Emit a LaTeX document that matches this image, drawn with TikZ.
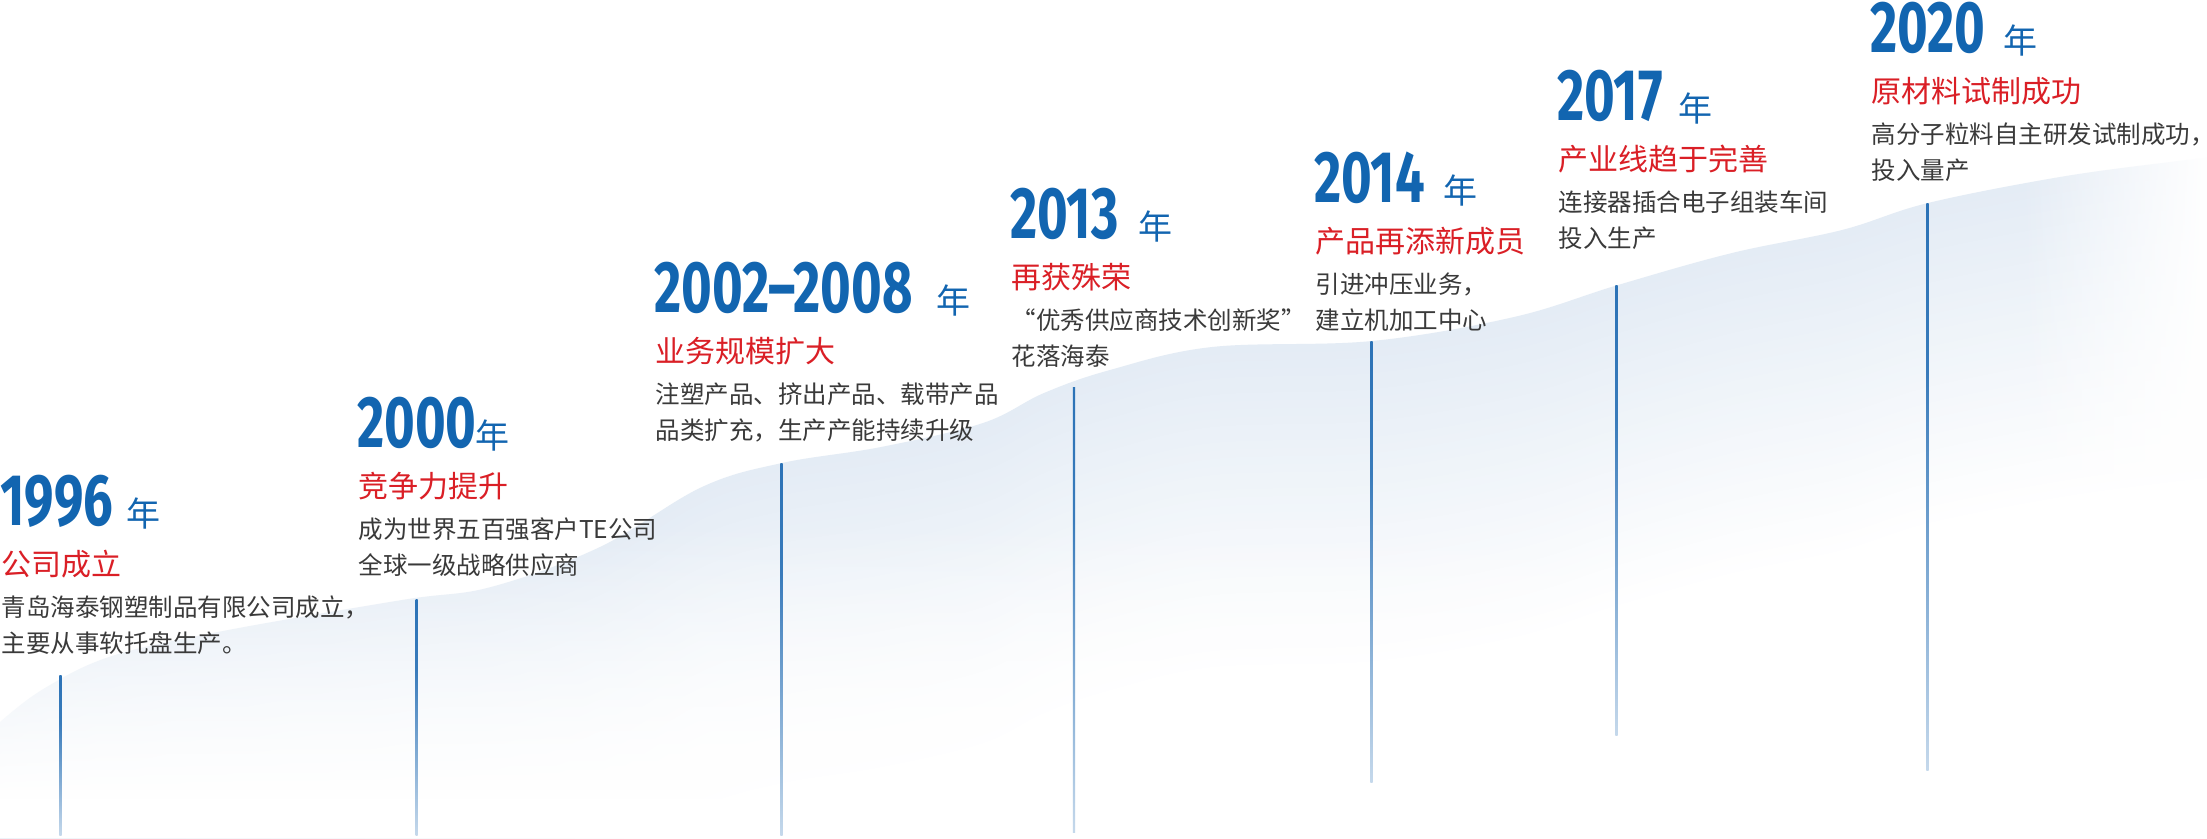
\documentclass[tikz,border=0pt]{standalone}
\usepackage{fontspec}
\usetikzlibrary{fadings}
\newfontfamily\cjk{Noto Sans CJK SC}
\newfontfamily\yearfont{Fira Sans}[FakeStretch=0.72]
\definecolor{yearblue}{RGB}{18,101,176}
\definecolor{titlered}{RGB}{218,31,38}
\definecolor{bodygray}{RGB}{58,58,58}
\definecolor{wave}{RGB}{228,236,245}
\definecolor{lineblue}{RGB}{22,100,175}
\pgfdeclareverticalshading{linefade}{100bp}{color(0bp)=(white); color(25bp)=(lineblue!25!white); color(60bp)=(lineblue!85!white); color(100bp)=(lineblue)}
\tikzfading[name=fadetoright, left color=transparent!100, right color=transparent!0]
\tikzfading[name=fadetobottom, top color=transparent!100, bottom color=transparent!0]
\tikzset{
  yearnum/.style={font=\yearfont\bfseries\fontsize{73}{73}\selectfont, text=yearblue, anchor=base west, inner sep=0pt},
  nian/.style={font=\cjk\fontsize{34}{34}\selectfont, text=yearblue, anchor=base west, inner sep=0pt},
  ttl/.style={font=\cjk\fontsize{30}{30}\selectfont, text=titlered, anchor=base west, inner sep=0pt},
  bodytext/.style={font=\cjk\fontsize{24.5}{36}\selectfont, text=bodygray, anchor=base west, inner sep=0pt},
  vline/.style={shading=linefade}
}
% #1 id, #2 ink x, #3 top y, #4 year, #5 nian x, #6 title, #7 line1, #8 line2
\newcommand\milestone[8]{%
  \node[yearnum] (y#1) at (#2-3, #3+50) {#4};
  \node[nian] (n#1) at (#5-2, #3+51) {年};
  \node[ttl] (t#1) at (#2-1.5, #3+100) {#6};
  \node[bodytext] (a#1) at (#2-1.5, #3+141) {#7};
  \node[bodytext] (b#1) at (#2-1.5, #3+177) {#8};
}
\newcommand\stemline[4]{%
  \coordinate (s#1t) at (#2-1.1, #3);
  \coordinate (s#1b) at (#2+1.1, #4);
  \shade[vline] (s#1t) rectangle (s#1b);
}
\begin{document}
\begin{tikzpicture}[x=1pt, y=-1pt]
\useasboundingbox (0,0) rectangle (2207,838);
\clip (0,0) rectangle (2207,838);
\fill[white] (0,0) rectangle (2207,838);
% background wave
\foreach \i in {0,...,40}{
  \pgfmathsetmacro\pct{100-2.5*\i}
  \fill[wave!\pct!white, shift={(0,\i*8)}]
    plot[smooth, tension=0.6] coordinates {(-10,735) (0,722) (45,688) (112,656) (223,631) (402,600) (491,587) (600,547) (702,487) (782,463) (881,447) (983,423) (1044,393) (1110,370) (1212,347) (1372,341) (1514,317) (1618,285) (1732,253) (1842,230) (1928,203) (2060,177) (2170,162) (2217,157)}
    -- (2217,1400) -- (-10,1400) -- cycle;
}
\fill[white, path fading=fadetoright] (2020,0) rectangle (2207,838);
\fill[white, path fading=fadetobottom] (0,520) rectangle (2207,800);
\fill[white] (0,799) rectangle (2207,838);
% stems
\stemline{96}{60.5}{675}{835}
\stemline{00}{416.6}{599}{835}
\stemline{02}{781.5}{463}{835}
\stemline{13}{1074}{387}{832}
\stemline{14}{1371.5}{341}{782}
\stemline{17}{1616.5}{285}{735}
\stemline{20}{1927.5}{203}{770}
% texts
\milestone{96}{3}{475}{1996}{128}{公司成立}{青岛海泰钢塑制品有限公司成立，}{主要从事软托盘生产。}
\milestone{00}{360}{397}{2000}{477}{竞争力提升}{成为世界五百强客户TE公司}{全球一级战略供应商}
\milestone{02}{657}{262}{2002–2008}{938}{业务规模扩大}{注塑产品、挤出产品、载带产品}{品类扩充，生产产能持续升级}
\milestone{13}{1013}{188}{2013}{1140}{再获殊荣}{“优秀供应商技术创新奖”}{花落海泰}
\milestone{14}{1317}{152}{2014}{1445}{产品再添新成员}{引进冲压业务，}{建立机加工中心}
\milestone{17}{1560}{70}{2017}{1680}{产业线趋于完善}{连接器插合电子组装车间}{投入生产}
\milestone{20}{1873}{2}{2020}{2005}{原材料试制成功}{高分子粒料自主研发试制成功\rlap{，}}{投入量产}
\end{tikzpicture}
\end{document}
